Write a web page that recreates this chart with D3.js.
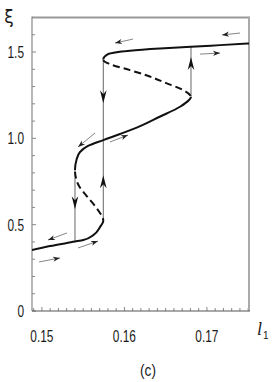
<!DOCTYPE html>
<html>
<head>
<meta charset="utf-8">
<script src="https://cdn.jsdelivr.net/npm/d3@7"></script>
<style>
  html, body { margin: 0; padding: 0; background: #fff; }
  svg { display: block; }
</style>
</head>
<body>
<div id="chart"></div>
<script>
// branches of the response curve, [l1, xi] pairs, xi increasing
const lowerStable = [
  [0.1488, 0.353], [0.15098, 0.376], [0.15401, 0.402], [0.15502, 0.411],
  [0.15623, 0.44], [0.15704, 0.486], [0.15744, 0.521]
];
const lowerUnstable = [
  [0.15744, 0.521], [0.15734, 0.545], [0.15704, 0.568], [0.15644, 0.608],
  [0.15543, 0.666], [0.1545, 0.724], [0.15413, 0.77], [0.15401, 0.817]
];
const middleStable = [
  [0.15401, 0.817], [0.15419, 0.875], [0.15462, 0.921], [0.15559, 0.956],
  [0.15744, 0.99], [0.15946, 1.025], [0.16149, 1.062], [0.16427, 1.125],
  [0.16674, 1.183], [0.16783, 1.222], [0.16807, 1.239]
];
const upperUnstable = [
  [0.16807, 1.239], [0.16709, 1.28], [0.16491, 1.323], [0.16274, 1.364],
  [0.16068, 1.395], [0.15825, 1.43], [0.15753, 1.447], [0.15744, 1.457]
];
const upperStable = [
  [0.15744, 1.457], [0.15801, 1.488], [0.16068, 1.508], [0.16431, 1.52],
  [0.16807, 1.53], [0.17159, 1.54], [0.1751, 1.55]
];

// jumps: l1 position, xi from / to
const jumps = [
  { l1: 0.15401, from: 0.817, to: 0.402 },
  { l1: 0.15744, from: 0.521, to: 1.457 },
  { l1: 0.16807, from: 1.239, to: 1.53 }
];
// big arrowheads on the jumps: tip position and direction
const jumpHeads = [
  { l1: 0.15401, xi: 0.59, dir: "down" },
  { l1: 0.15744, xi: 0.787, dir: "up" },
  { l1: 0.15744, xi: 1.204, dir: "down" },
  { l1: 0.16807, xi: 1.471, dir: "up" }
];
// small direction arrows: [l1, xi] tail -> head
const flowArrows = [
  [[0.16104, 1.575], [0.15886, 1.552]],
  [[0.17401, 1.61], [0.17183, 1.599]],
  [[0.16916, 1.488], [0.17159, 1.494]],
  [[0.15644, 1.031], [0.15438, 0.95]],
  [[0.15825, 0.979], [0.16043, 1.019]],
  [[0.15304, 0.452], [0.15074, 0.411]],
  [[0.15438, 0.365], [0.1568, 0.405]],
  [[0.14965, 0.284], [0.15219, 0.307]]
];

const xTicks = d3.range(149, 176).map((v) => v / 1000);
const xLabels = [0.15, 0.16, 0.17];
const yTicks = d3.range(0, 17).map((v) => v / 10);
const yLabels = [0, 0.5, 1.0, 1.5];

const width = 273, height = 382;
const box = { left: 32, right: 249, top: 17.5, bottom: 311 };

const x = d3.scaleLinear().domain([0.1488, 0.1751]).range([box.left, box.right]);
const y = d3.scaleLinear().domain([0, 1.7]).range([box.bottom, box.top]);

const svg = d3.select("#chart").append("svg")
  .attr("width", width).attr("height", height);

const narrow = "'Liberation Sans', Arial, sans-serif";

// clip bands by xi range (curve is monotone in xi)
const defs = svg.append("defs");
const band = (id, ranges) => {
  const cp = defs.append("clipPath").attr("id", id);
  ranges.forEach(([lo, hi]) => {
    cp.append("rect")
      .attr("x", box.left).attr("width", box.right - box.left)
      .attr("y", y(hi)).attr("height", y(lo) - y(hi));
  });
};
const ext = (b) => d3.extent(b, (d) => d[1]);
const e0 = ext(lowerStable), e2 = ext(middleStable), e4 = ext(upperStable);
band("stable", [[0, e0[1]], e2, [e4[0], 1.7]]);
band("unstable", [ext(lowerUnstable), ext(upperUnstable)]);

// ticks
const gTicks = svg.append("g").attr("stroke", "#888").attr("stroke-width", 1);
gTicks.selectAll(".xt").data(xTicks).join("line")
  .attr("x1", (d) => x(d)).attr("x2", (d) => x(d))
  .attr("y1", box.bottom).attr("y2", (d) => box.bottom - (xLabels.some((v) => Math.abs(v - d) < 1e-9) ? 4 : 3));
gTicks.selectAll(".yt").data(yTicks).join("line")
  .attr("y1", (d) => y(d)).attr("y2", (d) => y(d))
  .attr("x1", box.left).attr("x2", (d) => box.left + (yLabels.includes(d) ? 4 : 3));

// frame
svg.append("line").attr("x1", box.left).attr("x2", box.right)
  .attr("y1", box.top).attr("y2", box.top)
  .attr("stroke", "#999").attr("stroke-width", 2);
svg.append("line").attr("x1", box.right).attr("x2", box.right)
  .attr("y1", box.top - 1).attr("y2", box.bottom)
  .attr("stroke", "#aaa").attr("stroke-width", 2);
svg.append("line").attr("x1", box.left).attr("x2", box.left)
  .attr("y1", box.top - 1).attr("y2", box.bottom)
  .attr("stroke", "#888").attr("stroke-width", 1.2);
svg.append("line").attr("x1", box.left).attr("x2", box.right + 1)
  .attr("y1", box.bottom).attr("y2", box.bottom)
  .attr("stroke", "#555").attr("stroke-width", 1.2);

// tick labels
svg.selectAll(".xl").data(xLabels).join("text")
  .attr("transform", (d) => `translate(${x(d)},342) scale(0.7,1)`)
  .attr("text-anchor", "middle")
  .attr("font-family", narrow).attr("font-size", 17).attr("fill", "#1a1a1a")
  .text((d) => d.toFixed(2));
svg.selectAll(".yl").data(yLabels).join("text")
  .attr("transform", (d) => `translate(24,${y(d) + 6}) scale(0.7,1)`)
  .attr("text-anchor", "end")
  .attr("font-family", narrow).attr("font-size", 17).attr("fill", "#1a1a1a")
  .text((d) => (d === 0 ? "0" : d.toFixed(1)));

// axis titles
svg.append("text").attr("x", 9).attr("y", 23)
  .attr("text-anchor", "middle")
  .attr("font-family", "'DejaVu Sans', sans-serif").attr("font-size", 17).attr("fill", "#1a1a1a")
  .text("ξ");
const t1 = svg.append("text").attr("x", 257).attr("y", 335)
  .attr("font-family", "'Liberation Serif', serif").attr("font-size", 18).attr("fill", "#1a1a1a");
t1.append("tspan").attr("font-style", "italic").text("l");
t1.append("tspan").attr("font-family", narrow).attr("font-size", 10).attr("dy", 4).attr("dx", 1).text("1");
svg.append("text")
  .attr("transform", "translate(148,376) scale(0.8,1)")
  .attr("text-anchor", "middle")
  .attr("font-family", narrow).attr("font-size", 17).attr("fill", "#1a1a1a")
  .text("(c)");

// jumps
svg.selectAll(".jump").data(jumps).join("line")
  .attr("x1", (d) => x(d.l1)).attr("x2", (d) => x(d.l1))
  .attr("y1", (d) => y(d.from)).attr("y2", (d) => y(d.to))
  .attr("stroke", "#555").attr("stroke-width", 0.9);

// response curve
const full = [...lowerStable, ...lowerUnstable.slice(1), ...middleStable.slice(1),
  ...upperUnstable.slice(1), ...upperStable.slice(1)];
const line = d3.line().x((d) => x(d[0])).y((d) => y(d[1])).curve(d3.curveMonotoneY);
svg.append("path").attr("d", line(full))
  .attr("clip-path", "url(#stable)")
  .attr("fill", "none").attr("stroke", "#111").attr("stroke-width", 2);
svg.append("path").attr("d", line(full))
  .attr("clip-path", "url(#unstable)")
  .attr("fill", "none").attr("stroke", "#111").attr("stroke-width", 2)
  .attr("stroke-dasharray", "7,4");

// big arrowheads
svg.selectAll(".head").data(jumpHeads).join("path")
  .attr("d", "M0,0L3.3,-13L0,-9L-3.3,-13Z")
  .attr("transform", (d) => `translate(${x(d.l1)},${y(d.xi)}) rotate(${d.dir === "down" ? 0 : 180})`)
  .attr("fill", "#111");

// small flow arrows
const fa = svg.append("g");
flowArrows.forEach(([a, b]) => {
  const x1 = x(a[0]), y1 = y(a[1]), x2 = x(b[0]), y2 = y(b[1]);
  const ang = Math.atan2(y2 - y1, x2 - x1) * 180 / Math.PI;
  fa.append("line").attr("x1", x1).attr("y1", y1).attr("x2", x2).attr("y2", y2)
    .attr("stroke", "#777").attr("stroke-width", 0.9);
  fa.append("path").attr("d", "M0,0L-7,-2.6L-5,0L-7,2.6Z")
    .attr("transform", `translate(${x2},${y2}) rotate(${ang})`)
    .attr("fill", "#222");
});
</script>
</body>
</html>
